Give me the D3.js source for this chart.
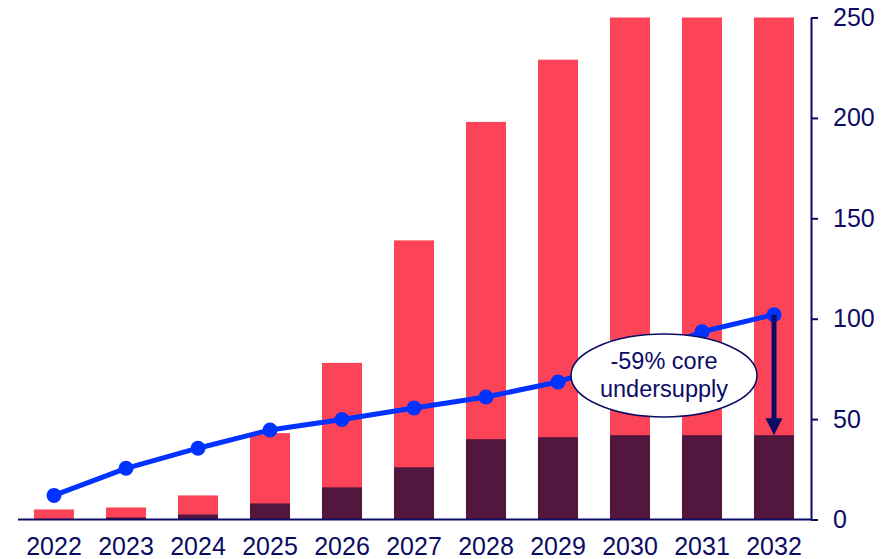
<!DOCTYPE html>
<html>
<head>
<meta charset="utf-8">
<script src="https://cdn.jsdelivr.net/npm/d3@7"></script>
<style>
  html, body { margin: 0; padding: 0; background: #ffffff; }
  svg { display: block; font-family: "Liberation Sans", Arial, sans-serif; }
</style>
</head>
<body>
<svg id="chart" width="885" height="559"></svg>
<script>
// Years on the category axis
const years = ["2022", "2023", "2024", "2025", "2026", "2027", "2028", "2029", "2030", "2031", "2032"];
// Total pipeline (red bars)
const pipeline = [5, 6, 12, 43, 78, 139, 198, 229, 250, 250, 250];
// Core supply (dark bars)
const core = [0, 1, 2.5, 8, 16, 26, 40, 41, 42, 42, 42];
// Demand (blue line)
const demand = [12, 25.5, 35.5, 44.6, 49.8, 55.5, 61, 68.5, 80, 93.5, 102];
// Right-axis ticks
const yTicks = [0, 50, 100, 150, 200, 250];
// Annotation
const noteLines = ["-59% core", "undersupply"];

const NAVY = "#0c0c66";
const RED = "#fc4357";
const DARK = "#53163f";
const BLUE = "#0033ff";

const svg = d3.select("#chart");

const x = d3.scaleBand()
  .domain(years)
  .range([18, 810])
  .paddingInner(0.444)
  .paddingOuter(0.222);

const y = d3.scaleLinear()
  .domain([0, 250])
  .range([519.5, 17.5]);

const rows = years.map((yr, i) => ({ yr, pipeline: pipeline[i], core: core[i], demand: demand[i] }));

// Pipeline bars
svg.append("g").selectAll("rect")
  .data(rows)
  .join("rect")
  .attr("x", d => x(d.yr))
  .attr("width", x.bandwidth())
  .attr("y", d => y(d.pipeline))
  .attr("height", d => y(0) - y(d.pipeline))
  .attr("fill", RED);

// Core bars
svg.append("g").selectAll("rect")
  .data(rows.filter(d => d.core > 0))
  .join("rect")
  .attr("x", d => x(d.yr))
  .attr("width", x.bandwidth())
  .attr("y", d => y(d.core))
  .attr("height", d => y(0) - y(d.core))
  .attr("fill", DARK);

// Bottom axis
const xAxis = svg.append("g")
  .attr("transform", `translate(0,${y(0)})`)
  .call(d3.axisBottom(x).tickSize(0).tickPadding(18));
xAxis.select(".domain").remove();
xAxis.selectAll("text")
  .attr("fill", NAVY)
  .attr("font-size", 25)
  .attr("font-family", "Liberation Sans, Arial, sans-serif");
svg.append("line")
  .attr("x1", 18).attr("x2", 811)
  .attr("y1", y(0)).attr("y2", y(0))
  .attr("stroke", NAVY).attr("stroke-width", 2);

// Right axis
const yAxis = svg.append("g")
  .attr("transform", "translate(811,0)")
  .call(d3.axisRight(y).tickValues(yTicks).tickSize(7).tickSizeOuter(0).tickPadding(15));
yAxis.select(".domain").attr("stroke", NAVY).attr("stroke-width", 2);
yAxis.selectAll(".tick line").attr("stroke", NAVY).attr("stroke-width", 2);
yAxis.selectAll("text")
  .attr("fill", NAVY)
  .attr("font-size", 25)
  .attr("font-family", "Liberation Sans, Arial, sans-serif");

// Demand line
const cx = d => x(d.yr) + x.bandwidth() / 2;
svg.append("path")
  .datum(rows)
  .attr("fill", "none")
  .attr("stroke", BLUE)
  .attr("stroke-width", 5)
  .attr("stroke-linejoin", "round")
  .attr("d", d3.line().x(cx).y(d => y(d.demand)));
svg.append("g").selectAll("circle")
  .data(rows)
  .join("circle")
  .attr("cx", cx)
  .attr("cy", d => y(d.demand))
  .attr("r", 7.5)
  .attr("fill", BLUE);

// Gap arrow from demand to core supply in the last year
const last = rows[rows.length - 1];
const ax = cx(last);
const yTop = y(last.demand);
const yTip = y(last.core);
svg.append("line")
  .attr("x1", ax).attr("x2", ax)
  .attr("y1", yTop).attr("y2", yTip - 14)
  .attr("stroke", NAVY).attr("stroke-width", 5);
svg.append("path")
  .attr("d", `M${ax - 8.5},${yTip - 17} L${ax + 8.5},${yTip - 17} L${ax},${yTip} Z`)
  .attr("fill", NAVY);

// Callout bubble
const bubble = svg.append("g").attr("transform", "translate(664,375.5)");
bubble.append("ellipse")
  .attr("rx", 93).attr("ry", 41.5)
  .attr("fill", "#ffffff")
  .attr("stroke", NAVY)
  .attr("stroke-width", 1.6);
bubble.selectAll("text")
  .data(noteLines)
  .join("text")
  .attr("text-anchor", "middle")
  .attr("y", (d, i) => -6.5 + i * 27.5)
  .attr("fill", NAVY)
  .attr("font-size", 23.5)
  .text(d => d);
</script>
</body>
</html>
